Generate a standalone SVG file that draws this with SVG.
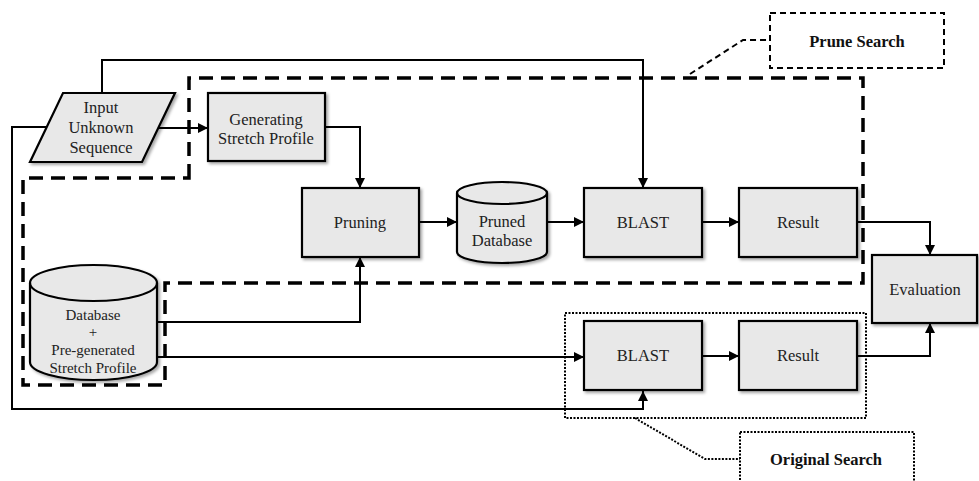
<svg xmlns="http://www.w3.org/2000/svg" width="979" height="481" viewBox="0 0 979 481">
<style>
.box{fill:#e8e8e8;stroke:#000;stroke-width:2.2;filter:url(#sh)}
.t{font-family:"Liberation Serif","Times New Roman",serif;font-size:16.5px;fill:#222;text-anchor:middle}
.s{font-size:15px}
.b{font-family:"Liberation Serif","Times New Roman",serif;font-size:16.5px;font-weight:bold;fill:#111;text-anchor:middle}
.c{fill:none;stroke:#000;stroke-width:2}
.dash{fill:none;stroke:#000;stroke-width:3.5;stroke-dasharray:14 8}
.tdash{fill:none;stroke:#000;stroke-width:2;stroke-dasharray:6 4}
.dot{fill:none;stroke:#000;stroke-width:2;stroke-dasharray:2 1.5}
</style>
<defs>
<filter id="sh" x="-10%" y="-10%" width="130%" height="130%">
<feDropShadow dx="2" dy="2" stdDeviation="1.5" flood-color="#000" flood-opacity="0.35"/>
</filter>
<marker id="ar" viewBox="0 0 10 10" refX="10" refY="5" markerWidth="11" markerHeight="10" markerUnits="userSpaceOnUse" orient="auto">
<path d="M0,0 L10,5 L0,10 z" fill="#000"/>
</marker>
</defs>

<g id="regions">
<path class="dash" d="M189,178 L189,78 L863,78 L863,283 L165,283 L165,385 L23,385 L23,178 Z"/>
<path class="dot" d="M565,313 H866 V418 H565 Z"/>
</g>

<g id="connectors">
<path class="c" d="M102,93 V60 H643 V188" marker-end="url(#ar)"/>
<path class="c" d="M158,128 H208" marker-end="url(#ar)"/>
<path class="c" d="M47,127 H12 V409 H643 V391" marker-end="url(#ar)"/>
<path class="c" d="M325,127 H360 V188" marker-end="url(#ar)"/>
<path class="c" d="M419,222 H457" marker-end="url(#ar)"/>
<path class="c" d="M547,222 H584" marker-end="url(#ar)"/>
<path class="c" d="M702,222 H739" marker-end="url(#ar)"/>
<path class="c" d="M857,222 H930 V255" marker-end="url(#ar)"/>
<path class="c" d="M157,322 H360 V257" marker-end="url(#ar)"/>
<path class="c" d="M157,357 H584" marker-end="url(#ar)"/>
<path class="c" d="M702,356 H739" marker-end="url(#ar)"/>
<path class="c" d="M857,356 H930 V323" marker-end="url(#ar)"/>
<path class="tdash" d="M690,74 L743,40 H770"/>
<path class="dot" d="M635,418 L705,459 H740"/>
</g>

<g id="input">
<polygon class="box" points="63,93 175,93 142,162 30,162"/>
<text class="t" x="101" y="113">Input</text>
<text class="t" x="101" y="133">Unknown</text>
<text class="t" x="101" y="153">Sequence</text>
</g>

<g id="generating">
<rect class="box" x="208" y="93" width="117" height="68"/>
<text class="t" x="266" y="125">Generating</text>
<text class="t" x="266" y="144">Stretch Profile</text>
</g>

<g id="pruning">
<rect class="box" x="302" y="188" width="117" height="69"/>
<text class="t" x="360" y="228">Pruning</text>
</g>

<g id="pruned-db">
<path class="box" d="M457,193 A45,11 0 0 1 547,193 V252 A45,11 0 0 1 457,252 Z"/>
<path d="M457,193 A45,11 0 0 0 547,193" fill="none" stroke="#000" stroke-width="2.2"/>
<text class="t" x="502" y="227">Pruned</text>
<text class="t" x="502" y="246">Database</text>
</g>

<g id="blast-prune">
<rect class="box" x="584" y="188" width="118" height="69"/>
<text class="t" x="643" y="228">BLAST</text>
</g>

<g id="result-prune">
<rect class="box" x="739" y="188" width="118" height="69"/>
<text class="t" x="798" y="228">Result</text>
</g>

<g id="evaluation">
<rect class="box" x="872" y="255" width="105" height="68"/>
<text class="t" x="925" y="295">Evaluation</text>
</g>

<g id="database">
<path class="box" d="M30,283 A63.5,18 0 0 1 157,283 V362 A63.5,18 0 0 1 30,362 Z"/>
<path d="M30,283 A63.5,18 0 0 0 157,283" fill="none" stroke="#000" stroke-width="2.2"/>
<text class="t s" x="93" y="320">Database</text>
<text class="t s" x="93" y="337">+</text>
<text class="t s" x="93" y="355">Pre-generated</text>
<text class="t s" x="93" y="373">Stretch Profile</text>
</g>

<g id="blast-orig">
<rect class="box" x="584" y="321" width="118" height="69"/>
<text class="t" x="643" y="361">BLAST</text>
</g>

<g id="result-orig">
<rect class="box" x="739" y="321" width="118" height="69"/>
<text class="t" x="798" y="361">Result</text>
</g>

<g id="prune-search">
<rect class="tdash" x="770" y="13" width="174" height="55"/>
<text class="b" x="857" y="47">Prune Search</text>
</g>

<g id="original-search">
<rect class="dot" x="740" y="432" width="174" height="60"/>
<text class="b" x="826" y="465">Original Search</text>
</g>
</svg>
